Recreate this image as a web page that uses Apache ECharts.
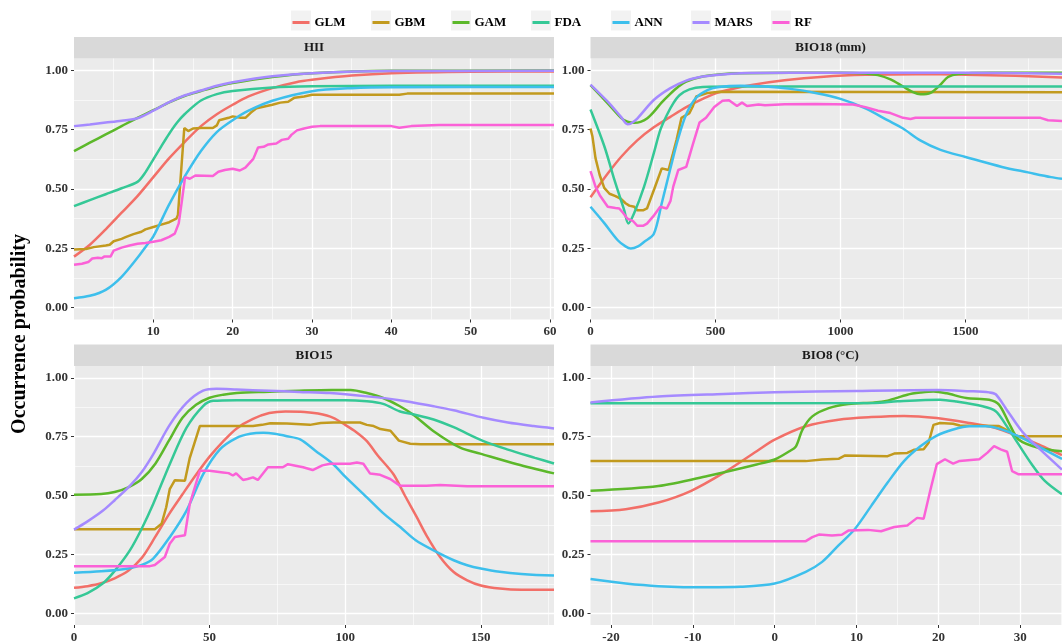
<!DOCTYPE html>
<html>
<head>
<meta charset="utf-8">
<script src="https://cdn.jsdelivr.net/npm/echarts@6/dist/echarts.min.js"></script>
<style>
  html, body { margin: 0; padding: 0; background: #fff; }
  #chart { width: 1062px; height: 644px; }
</style>
</head>
<body>
<div id="chart"></div>
<script>
/** models and their colours (ggplot hue palette) */
const models = ["GLM", "GBM", "GAM", "FDA", "ANN", "MARS", "RF"];
const modelColors = ["#F26F68", "#C29A1E", "#5CB82A", "#35C896", "#3DBFEC", "#A58AFF", "#FB61D7"];
const smoothModels = ["GLM", "GAM", "FDA", "ANN", "MARS"];

/** facet titles */
const panelTitles = ["HII", "BIO18 (mm)", "BIO15", "BIO8 (°C)"];

/** shared y ticks */
const yTicks = [0, 0.25, 0.5, 0.75, 1];
const yMinor = [0.125, 0.375, 0.625, 0.875];

/** x ranges and ticks per facet */
const hiiRange = [0, 60.5];
const hiiTicks = [10, 20, 30, 40, 50, 60];
const hiiMinor = [5, 15, 25, 35, 45, 55];
const bio18Range = [0, 1886];
const bio18Ticks = [0, 500, 1000, 1500];
const bio18Minor = [250, 750, 1250, 1750];
const bio15Range = [0, 177];
const bio15Ticks = [0, 50, 100, 150];
const bio15Minor = [25, 75, 125, 175];
const bio8Range = [-22.5, 35.1];
const bio8Ticks = [-20, -10, 0, 10, 20, 30];
const bio8Minor = [-15, -5, 5, 15, 25, 35];

/** HII response curves */
const hiiGLM = [[0,0.215],[2,0.265],[4,0.33],[6,0.4],[8,0.47],[10,0.55],[12,0.63],[14,0.7],[16,0.765],[18,0.815],[20,0.855],[22,0.89],[25,0.925],[28,0.95],[30,0.96],[35,0.978],[40,0.988],[50,0.994],[60.5,0.995]];
const hiiGBM = [[0,0.245],[1.5,0.247],[2.5,0.255],[4,0.262],[4.5,0.265],[5,0.28],[6,0.29],[6.5,0.297],[7.5,0.31],[8.5,0.32],[9,0.33],[10,0.34],[11,0.35],[12,0.36],[12.9,0.375],[13.1,0.39],[13.9,0.757],[14.4,0.744],[15,0.755],[16,0.757],[17.5,0.757],[18,0.768],[18.3,0.79],[19.5,0.8],[20,0.806],[21,0.8],[21.6,0.8],[22.3,0.822],[23,0.84],[24,0.848],[25,0.855],[26,0.864],[27,0.868],[27.8,0.885],[29,0.89],[30,0.897],[41,0.897],[42,0.902],[60.5,0.902]];
const hiiGAM = [[0,0.66],[2,0.695],[4,0.73],[6,0.765],[8,0.8],[10,0.832],[12,0.865],[14,0.893],[16,0.913],[18,0.932],[20,0.947],[25,0.972],[30,0.988],[40,0.998],[60.5,0.999]];
const hiiFDA = [[0,0.428],[2,0.453],[4,0.478],[6,0.503],[8,0.53],[9,0.57],[10,0.625],[11,0.68],[12,0.733],[13,0.78],[14,0.817],[16,0.873],[18,0.9],[20,0.913],[25,0.928],[30,0.933],[40,0.935],[60.5,0.935]];
const hiiANN = [[0,0.04],[2,0.05],[4,0.075],[6,0.13],[8,0.21],[9,0.255],[10,0.3],[12,0.435],[14,0.555],[16,0.66],[18,0.74],[20,0.79],[22,0.83],[25,0.872],[30,0.912],[35,0.925],[40,0.929],[60.5,0.93]];
const hiiMARS = [[0,0.765],[2,0.772],[4,0.78],[6,0.788],[8,0.798],[10,0.83],[12,0.866],[14,0.895],[16,0.915],[18,0.935],[20,0.95],[25,0.975],[30,0.988],[40,0.997],[60.5,0.998]];
const hiiRF = [[0,0.181],[1,0.185],[1.8,0.192],[2.3,0.207],[3,0.21],[3.5,0.208],[3.8,0.215],[4.6,0.215],[5,0.24],[6,0.253],[7,0.262],[8,0.269],[9,0.272],[10,0.278],[11,0.284],[12,0.298],[12.7,0.312],[13.2,0.355],[13.6,0.45],[14,0.55],[14.6,0.543],[15.3,0.557],[17.5,0.555],[18.2,0.573],[19,0.58],[20,0.585],[20.9,0.578],[21.6,0.59],[22.6,0.627],[23.2,0.675],[23.9,0.678],[24.5,0.688],[25.5,0.692],[26.2,0.707],[27,0.712],[27.4,0.728],[28.1,0.747],[29,0.755],[30,0.762],[31,0.765],[40,0.765],[41,0.758],[42.5,0.765],[46,0.77],[60.5,0.77]];

/** BIO18 response curves */
const bio18GLM = [[0,0.465],[69,0.565],[122,0.635],[187,0.705],[253,0.76],[318,0.803],[383,0.845],[449,0.88],[514,0.908],[645,0.938],[776,0.958],[933,0.973],[1100,0.981],[1300,0.984],[1500,0.982],[1700,0.977],[1886,0.97]];
const bio18GBM = [[0,0.755],[8,0.72],[20,0.63],[37,0.558],[55,0.505],[76,0.48],[100,0.47],[122,0.458],[140,0.44],[155,0.43],[175,0.425],[187,0.41],[210,0.41],[226,0.418],[255,0.5],[285,0.587],[312,0.58],[330,0.65],[344,0.706],[364,0.8],[396,0.82],[410,0.85],[423,0.89],[470,0.905],[514,0.91],[1886,0.908]];
const bio18GAM = [[0,0.938],[69,0.861],[122,0.8],[148,0.784],[175,0.779],[200,0.783],[226,0.797],[253,0.825],[285,0.865],[318,0.9],[350,0.93],[383,0.953],[449,0.974],[514,0.983],[600,0.988],[1000,0.99],[1100,0.987],[1150,0.98],[1200,0.962],[1250,0.932],[1290,0.908],[1320,0.899],[1360,0.905],[1400,0.94],[1430,0.972],[1470,0.985],[1600,0.99],[1886,0.99]];
const bio18FDA = [[0,0.835],[56,0.678],[96,0.537],[135,0.41],[151,0.355],[174,0.397],[214,0.509],[253,0.65],[279,0.748],[305,0.811],[331,0.861],[357,0.896],[396,0.92],[449,0.93],[600,0.932],[1886,0.932]];
const bio18ANN = [[0,0.425],[56,0.355],[109,0.284],[140,0.258],[161,0.249],[190,0.258],[214,0.277],[253,0.31],[285,0.44],[318,0.58],[350,0.71],[383,0.815],[423,0.885],[470,0.918],[514,0.93],[600,0.935],[700,0.932],[800,0.922],[900,0.905],[1000,0.88],[1100,0.84],[1188,0.79],[1250,0.755],[1319,0.705],[1400,0.665],[1500,0.635],[1646,0.593],[1750,0.57],[1842,0.55],[1886,0.543]];
const bio18MARS = [[0,0.94],[69,0.868],[122,0.804],[148,0.773],[160,0.775],[187,0.797],[253,0.875],[318,0.924],[383,0.957],[449,0.974],[514,0.982],[600,0.988],[800,0.99],[1500,0.99],[1886,0.986]];
const bio18RF = [[0,0.575],[4,0.572],[20,0.51],[37,0.474],[69,0.425],[100,0.42],[115,0.418],[130,0.4],[148,0.375],[170,0.365],[187,0.345],[210,0.345],[226,0.354],[255,0.39],[279,0.425],[305,0.418],[320,0.45],[331,0.51],[351,0.58],[383,0.593],[410,0.69],[436,0.78],[462,0.8],[495,0.846],[528,0.872],[554,0.874],[586,0.85],[606,0.864],[626,0.85],[672,0.856],[698,0.853],[777,0.857],[900,0.858],[1050,0.856],[1100,0.845],[1150,0.83],[1200,0.82],[1250,0.8],[1280,0.795],[1300,0.8],[1500,0.8],[1800,0.8],[1830,0.79],[1886,0.787]];

/** BIO15 response curves */
const bio15GLM = [[0,0.108],[5,0.115],[10,0.127],[15,0.148],[20,0.18],[25,0.235],[30,0.325],[35,0.42],[40,0.505],[45,0.588],[50,0.665],[55,0.73],[60,0.785],[66,0.825],[72,0.85],[78,0.857],[85,0.855],[90,0.848],[95.6,0.83],[100,0.8],[104,0.77],[108,0.731],[112,0.67],[117.8,0.59],[122,0.5],[126.4,0.408],[130,0.33],[135,0.239],[140,0.175],[145,0.14],[150,0.118],[157,0.105],[165,0.1],[177,0.1]];
const bio15GBM = [[0,0.357],[29.8,0.357],[32.3,0.38],[34,0.45],[35.3,0.527],[37.2,0.565],[40.9,0.563],[42.7,0.66],[46.4,0.795],[60,0.795],[66,0.795],[69.3,0.8],[72.4,0.807],[78.5,0.806],[87,0.8],[91,0.808],[95.6,0.81],[105.5,0.81],[108,0.8],[110.5,0.795],[113,0.782],[116.7,0.775],[119.8,0.733],[124,0.72],[127.8,0.718],[177,0.718]];
const bio15GAM = [[0,0.503],[10,0.506],[15,0.515],[20,0.535],[25,0.57],[30,0.635],[35,0.733],[40,0.83],[45,0.885],[50,0.915],[55,0.928],[60,0.935],[70,0.94],[83,0.945],[95,0.948],[102,0.948],[108,0.935],[114,0.914],[120,0.88],[125,0.844],[132.6,0.773],[142.4,0.703],[149.8,0.678],[163.4,0.633],[177,0.594]];
const bio15FDA = [[0,0.063],[5,0.085],[10.7,0.127],[15,0.18],[20.6,0.267],[25,0.36],[29.2,0.464],[35.3,0.633],[41.5,0.788],[47.6,0.88],[51.3,0.902],[60,0.905],[100,0.905],[108,0.9],[114,0.889],[120,0.858],[125,0.845],[132.6,0.823],[140,0.79],[151,0.731],[160,0.695],[170,0.66],[177,0.636]];
const bio15ANN = [[0,0.172],[10,0.178],[20,0.19],[25,0.205],[29.2,0.232],[35.3,0.323],[41.5,0.436],[47.6,0.59],[53.8,0.696],[60,0.745],[65,0.762],[69.8,0.766],[74,0.762],[78.5,0.752],[83.4,0.738],[89,0.69],[95.6,0.633],[100,0.58],[108,0.492],[114,0.425],[120.3,0.366],[126,0.31],[132.6,0.267],[140,0.225],[145,0.204],[150,0.19],[157,0.176],[165,0.167],[177,0.16]];
const bio15MARS = [[0,0.355],[5,0.39],[10.7,0.436],[15,0.48],[20.6,0.541],[25,0.6],[29.2,0.675],[35.3,0.8],[41.5,0.893],[47.6,0.945],[52.5,0.953],[60,0.95],[72,0.945],[83,0.94],[94.4,0.935],[108,0.921],[120,0.905],[132.6,0.879],[140,0.862],[151,0.83],[160,0.81],[169.5,0.795],[177,0.785]];
const bio15RF = [[0,0.2],[28,0.2],[29.8,0.205],[33.5,0.239],[35.3,0.295],[37.2,0.324],[40.9,0.331],[42.7,0.465],[46.4,0.605],[50,0.605],[54.9,0.598],[57,0.595],[58.6,0.585],[59.8,0.594],[62.3,0.566],[64,0.57],[66,0.577],[67.8,0.566],[71.5,0.62],[77,0.62],[78.9,0.633],[84.5,0.62],[88,0.608],[91.6,0.628],[94.4,0.635],[101.8,0.635],[104.3,0.64],[106.7,0.635],[109.2,0.593],[112.9,0.588],[116.6,0.57],[120.3,0.541],[130,0.541],[135,0.545],[145,0.539],[177,0.539]];

/** BIO8 response curves */
const bio8GLM = [[-22.5,0.433],[-18.2,0.442],[-14.2,0.47],[-10.2,0.52],[-6.2,0.597],[-2.2,0.688],[0,0.737],[3.8,0.794],[7.8,0.822],[11.8,0.833],[15.8,0.838],[19.8,0.829],[23.8,0.808],[27,0.787],[29.8,0.751],[31.8,0.723],[35.1,0.672]];
const bio8GBM = [[-22.5,0.646],[3.8,0.646],[5.8,0.653],[7.8,0.656],[8.6,0.67],[13.8,0.667],[14.6,0.678],[16.2,0.681],[17,0.694],[18.2,0.696],[18.8,0.724],[19.4,0.8],[20.2,0.808],[21.8,0.805],[22.6,0.797],[27.4,0.795],[28.6,0.773],[29.4,0.752],[35.1,0.752]];
const bio8GAM = [[-22.5,0.52],[-14.2,0.54],[-8.2,0.583],[-2.2,0.632],[0,0.653],[1.8,0.688],[2.6,0.709],[3.4,0.78],[4.6,0.836],[6.6,0.871],[9,0.889],[12.2,0.895],[13.8,0.903],[16.2,0.928],[17.8,0.937],[19.4,0.942],[21,0.934],[23.4,0.914],[26.2,0.907],[27.4,0.886],[28.6,0.809],[29.8,0.738],[32.2,0.703],[35.1,0.688]];
const bio8FDA = [[-22.5,0.892],[12.2,0.893],[15,0.9],[20.2,0.907],[22.2,0.899],[25.4,0.879],[27,0.858],[28.2,0.802],[29.8,0.717],[31.4,0.633],[33,0.562],[35.1,0.505]];
const bio8ANN = [[-22.5,0.145],[-18.2,0.126],[-14.2,0.115],[-8.2,0.11],[-4.2,0.112],[0,0.126],[3.8,0.176],[5.8,0.218],[7.8,0.288],[9.8,0.358],[11.8,0.456],[13.8,0.555],[15.8,0.646],[17.8,0.709],[19.8,0.754],[21.8,0.78],[23.8,0.794],[25.8,0.794],[27.8,0.78],[29.8,0.751],[31.8,0.716],[35.1,0.655]];
const bio8MARS = [[-22.5,0.895],[-14.2,0.92],[-6.2,0.931],[0,0.938],[10,0.944],[20,0.948],[23.8,0.943],[26.2,0.938],[27,0.93],[28.2,0.872],[30.2,0.773],[32.2,0.703],[35.1,0.61]];
const bio8RF = [[-22.5,0.306],[3.8,0.306],[4.6,0.323],[5.4,0.334],[7,0.33],[8.2,0.333],[9,0.351],[11.4,0.354],[13,0.348],[14.6,0.366],[16.2,0.373],[17.4,0.405],[18.2,0.401],[19,0.52],[19.8,0.633],[20.8,0.654],[21.8,0.635],[22.6,0.647],[25,0.654],[26,0.682],[26.8,0.71],[27.6,0.696],[28.4,0.686],[29,0.604],[29.8,0.59],[35.1,0.59]];

/** facets, in reading order */
const panels = [
  { range: hiiRange, ticks: hiiTicks, minor: hiiMinor,
    curves: [hiiGLM, hiiGBM, hiiGAM, hiiFDA, hiiANN, hiiMARS, hiiRF] },
  { range: bio18Range, ticks: bio18Ticks, minor: bio18Minor,
    curves: [bio18GLM, bio18GBM, bio18GAM, bio18FDA, bio18ANN, bio18MARS, bio18RF] },
  { range: bio15Range, ticks: bio15Ticks, minor: bio15Minor,
    curves: [bio15GLM, bio15GBM, bio15GAM, bio15FDA, bio15ANN, bio15MARS, bio15RF] },
  { range: bio8Range, ticks: bio8Ticks, minor: bio8Minor,
    curves: [bio8GLM, bio8GBM, bio8GAM, bio8FDA, bio8ANN, bio8MARS, bio8RF] },
];

/** panel geometry (px) */
const panelLeft = [74, 590.5, 74, 590.5];
const panelTop = [58.5, 58.5, 366, 366];
const panelWidth = 480;
const panelHeight = 261;
const stripHeight = 21.5;

/** legend geometry: keys sit on a fixed 80px pitch */
const legendLeft = 291;
const legendPitch = 80;

const font = "Liberation Serif";
const labelStyle = { color: "#333", fontFamily: font, fontWeight: "bold", fontSize: 13 };

const grids = [];
const xAxes = [];
const yAxes = [];
const series = [];
const graphics = [];

panels.forEach((p, i) => {
  grids.push({
    left: panelLeft[i], top: panelTop[i], width: panelWidth, height: panelHeight,
    show: true, backgroundColor: "#EBEBEB", borderWidth: 0,
  });

  /** major axis: labels, ticks, thick grid lines */
  xAxes.push({
    type: "value", gridIndex: i, min: p.range[0], max: p.range[1],
    axisLine: { show: false, onZero: false },
    axisTick: { show: true, length: 3, lineStyle: { color: "#333" }, customValues: p.ticks },
    axisLabel: { ...labelStyle, margin: 6, customValues: p.ticks, formatter: (v) => String(v) },
    splitLine: { show: true, lineStyle: { color: "#fff", width: 1.3 } },
  });
  /** minor axis: thin grid lines only */
  xAxes.push({
    type: "value", gridIndex: i, min: p.range[0], max: p.range[1],
    axisLine: { show: false, onZero: false },
    axisTick: { show: false, customValues: p.minor },
    axisLabel: { show: false, customValues: p.minor },
    splitLine: { show: true, lineStyle: { color: "#fff", width: 0.6 } },
  });
  yAxes.push({
    type: "value", gridIndex: i, min: -0.05, max: 1.05, position: "left",
    axisLine: { show: false, onZero: false },
    axisTick: { show: true, length: 3, lineStyle: { color: "#333" }, customValues: yTicks },
    axisLabel: { ...labelStyle, margin: 6, customValues: yTicks, formatter: (v) => v.toFixed(2) },
    splitLine: { show: true, lineStyle: { color: "#fff", width: 1.3 } },
  });
  yAxes.push({
    type: "value", gridIndex: i, min: -0.05, max: 1.05, position: "left",
    axisLine: { show: false, onZero: false },
    axisTick: { show: false, customValues: yMinor },
    axisLabel: { show: false, customValues: yMinor },
    splitLine: { show: true, lineStyle: { color: "#fff", width: 0.6 } },
  });

  p.curves.forEach((data, k) => {
    const name = models[k];
    series.push({
      name, type: "line", data,
      xAxisIndex: 2 * i, yAxisIndex: 2 * i,
      showSymbol: false, silent: true,
      smooth: smoothModels.includes(name) ? 0.3 : false,
      lineStyle: { width: 2.5, color: modelColors[k] },
      itemStyle: { color: modelColors[k] },
    });
  });

  /** facet strip */
  graphics.push({
    type: "rect",
    shape: { x: panelLeft[i], y: panelTop[i] - stripHeight, width: panelWidth, height: stripHeight },
    style: { fill: "#D9D9D9" },
  });
  graphics.push({
    type: "text",
    x: panelLeft[i] + panelWidth / 2, y: panelTop[i] - stripHeight / 2,
    style: {
      text: panelTitles[i], fill: "#1A1A1A", font: `bold 13px ${font}`,
      align: "center", verticalAlign: "middle",
    },
  });
});

/** legend key backgrounds */
models.forEach((m, k) => {
  graphics.push({
    type: "rect", z: -1,
    shape: { x: legendLeft + k * legendPitch, y: 10.5, width: 20, height: 20 },
    style: { fill: "#F2F2F2" },
  });
});

graphics.push({
  type: "text",
  x: 20, y: 334, rotation: Math.PI / 2,
  style: {
    text: "Occurrence probability", fill: "#000", font: `bold 20px ${font}`,
    align: "center", verticalAlign: "middle",
  },
});

/** one legend per model so the keys keep an even pitch (legend padding is 5px) */
const legends = models.map((m, k) => ({
  data: [m],
  left: legendLeft + 1.5 - 5 + k * legendPitch, top: 11,
  icon: "rect", itemWidth: 17, itemHeight: 3,
  textStyle: { color: "#000", fontFamily: font, fontWeight: "bold", fontSize: 13 },
}));

const chart = echarts.init(document.getElementById("chart"), null, { renderer: "canvas" });
chart.setOption({
  animation: false,
  backgroundColor: "#fff",
  legend: legends,
  grid: grids,
  xAxis: xAxes,
  yAxis: yAxes,
  series,
  graphic: graphics,
});
</script>
</body>
</html>
